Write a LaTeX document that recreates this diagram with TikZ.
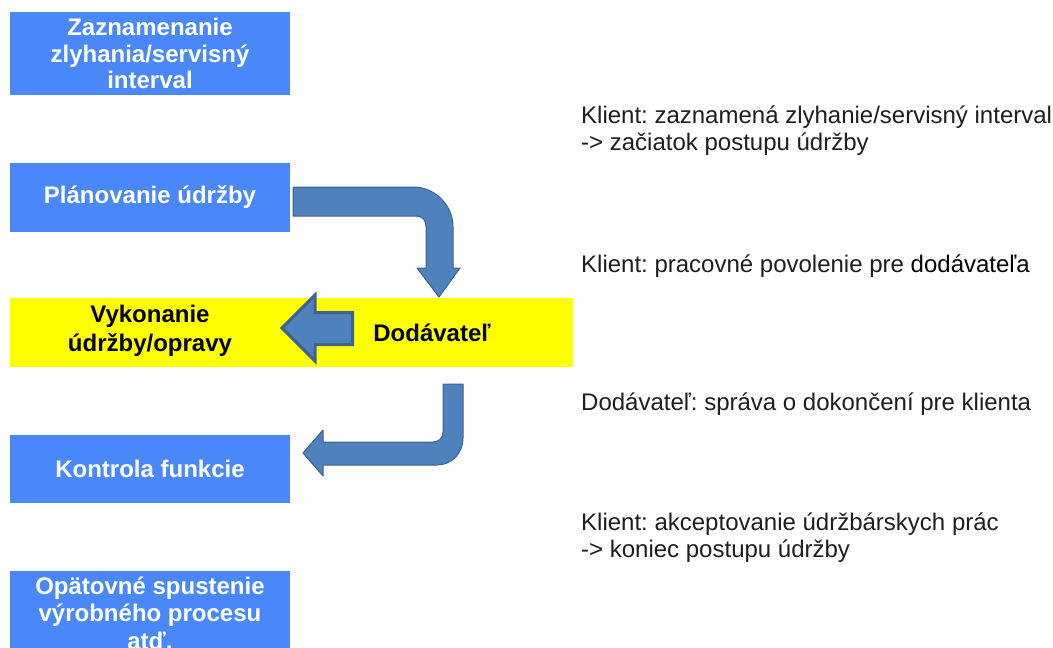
\documentclass[tikz,border=0pt]{standalone}
\usepackage{fontspec}
\setmainfont{Liberation Sans}
\frenchspacing
\definecolor{boxblue}{HTML}{4A88FA}
\definecolor{arrfill}{HTML}{4F81BD}
\definecolor{arredge}{HTML}{3B6292}
\definecolor{txtgray}{HTML}{1E1E1E}
\definecolor{bandyellow}{HTML}{FFFF00}
\tikzset{
  bluebox/.style={fill=boxblue, text=white, font=\fontsize{24}{26.5}\selectfont\bfseries,
    align=center, minimum width=280pt, inner sep=0pt},
  note/.style={anchor=west, inner sep=0pt, align=left, text=txtgray,
    font=\fontsize{24}{27}\selectfont},
  blockarrow/.style={fill=arrfill, draw=arredge, line width=1pt, line join=round},
}
\begin{document}
\begin{tikzpicture}[x=1pt,y=-1pt]
\clip (0,0) rectangle (1053,648);
\fill[white] (0,0) rectangle (1053,648);

% left column boxes
\node[bluebox, minimum height=83pt] (zazn) at (150,53.5)
  {Zaznamenanie\\zlyhania/servisný\\interval};
\node[bluebox, minimum height=69pt] (plan) at (150,197.5) {Plánovanie údržby};
\node[fill=bandyellow, minimum width=563pt, minimum height=69pt, inner sep=0pt] (band) at (291.5,332.5) {};
\node[align=center, inner sep=0pt, font=\fontsize{24}{29}\selectfont\bfseries] (vyk) at (150,331)
  {Vykonanie\\údržby/opravy};
\node[inner sep=0pt, font=\fontsize{24}{27}\selectfont\bfseries] (dod) at (432,333) {Dodávateľ};
\node[bluebox, minimum height=68pt] (kontr) at (150,469) {Kontrola funkcie};
\node[bluebox, minimum height=84pt, font=\fontsize{24}{27.5}\selectfont\bfseries] (opat) at (150,613)
  {Opätovné spustenie\\výrobného procesu\\atď.};

% bent arrow: planning -> contractor
\draw[blockarrow] (293,187) -- (413,187)
  .. controls (435,187) and (453,205) .. (453,227)
  -- (453,268) -- (460,268) -- (439,297) -- (417,268) -- (426,268)
  -- (426,226) .. controls (426,220) and (422,216) .. (416,216)
  -- (293,216) -- cycle;

% straight block arrow inside the yellow band
\draw[fill=arrfill, draw=arredge, line width=3pt, line join=miter]
  (282,328) -- (315,295) -- (315,312.5) -- (352.5,312.5) -- (352.5,344.5)
  -- (315,344.5) -- (315,361) -- cycle;

% bent arrow: contractor -> check
\draw[blockarrow] (443,384) -- (463,384) -- (463,438)
  .. controls (463,453) and (452,465) .. (437,465)
  -- (323,465) -- (323,476) -- (303,453) -- (323,430) -- (323,442)
  -- (433,442) .. controls (439,442) and (443,438) .. (443,432) -- cycle;

% notes on the right
\node[note] (n1) at (581,131) {Klient: zaznamená zlyhanie/servisný interval\\-> začiatok postupu údržby};
\node[note] (n2) at (581,266) {Klient: pracovné povolenie pre \textcolor{black}{dodávateľa}};
\node[note] (n3) at (581,404) {Dodávateľ: správa o dokončení pre klienta};
\node[note] (n4) at (581,537.5) {Klient: akceptovanie údržbárskych prác\\-> koniec postupu údržby};
\end{tikzpicture}
\end{document}
